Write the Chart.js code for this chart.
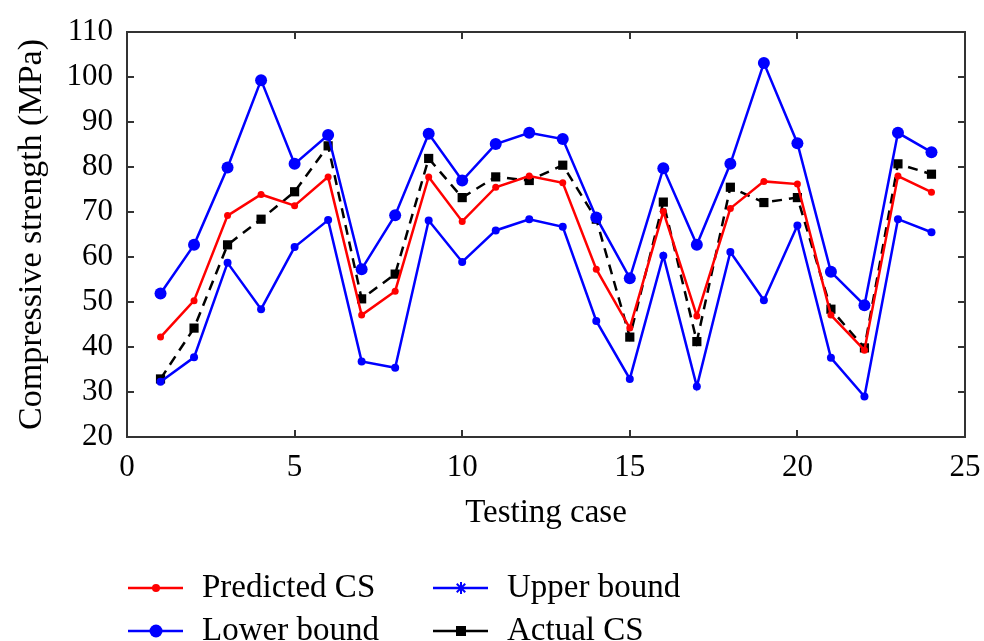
<!DOCTYPE html>
<html>
<head>
<meta charset="utf-8">
<script src="https://cdn.jsdelivr.net/npm/chart.js@4.4.1/dist/chart.umd.min.js"></script>
<style>
  html, body { margin: 0; padding: 0; background: #fff; }
  #wrap { width: 984px; height: 641px; position: relative; }
</style>
</head>
<body>
<div id="wrap"><canvas id="csChart"></canvas></div>
<script>
const testingCase = [1, 2, 3, 4, 5, 6, 7, 8, 9, 10, 11, 12, 13, 14, 15, 16, 17, 18, 19, 20, 21, 22, 23, 24];
const predictedCS = [42.2, 50.3, 69.2, 73.9, 71.4, 77.8, 47.1, 52.4, 77.8, 67.9, 75.5, 78.0,
                     76.5, 57.3, 44.2, 70.1, 46.9, 70.8, 76.8, 76.2, 47.1, 39.3, 78.0, 74.4];
const upperBound  = [32.3, 37.7, 58.7, 48.4, 62.2, 68.2, 36.8, 35.4, 68.1, 58.9, 65.9, 68.4,
                     66.7, 45.8, 32.9, 60.3, 31.2, 61.1, 50.4, 67.0, 37.6, 29.0, 68.4, 65.5];
const lowerBound  = [51.9, 62.7, 79.9, 99.3, 80.7, 87.1, 57.3, 69.3, 87.4, 77.0, 85.1, 87.6,
                     86.2, 68.8, 55.3, 79.7, 62.7, 80.7, 103.1, 85.3, 56.7, 49.3, 87.6, 83.3];
const actualCS    = [32.9, 44.2, 62.7, 68.4, 74.5, 84.7, 50.7, 56.2, 81.9, 73.2, 77.8, 77.0,
                     80.4, 68.4, 42.2, 72.2, 41.2, 75.5, 72.1, 73.2, 48.4, 39.8, 80.7, 78.4];
const xTickValues = [0, 5, 10, 15, 20, 25];
const yTickValues = [20, 30, 40, 50, 60, 70, 80, 90, 100, 110];

const FONT = '"Liberation Serif", "DejaVu Serif", serif';
const AXIS = '#333333';

const pts = vals => vals.map((v, i) => ({ x: testingCase[i], y: v }));

// box frame with inward ticks on all four sides
const frameTicks = {
  id: 'frameTicks',
  afterDraw(chart) {
    const { ctx, chartArea: { left, right, top, bottom }, scales: { x, y } } = chart;
    const len = 7;
    ctx.save();
    ctx.strokeStyle = AXIS;
    ctx.lineWidth = 2;
    ctx.beginPath();
    xTickValues.forEach(v => {
      const px = Math.round(x.getPixelForValue(v));
      if (px <= left + 1 || px >= right - 1) return;
      ctx.moveTo(px, bottom); ctx.lineTo(px, bottom - len);
      ctx.moveTo(px, top); ctx.lineTo(px, top + len);
    });
    yTickValues.forEach(v => {
      const py = Math.round(y.getPixelForValue(v));
      if (py <= top + 1 || py >= bottom - 1) return;
      ctx.moveTo(left, py); ctx.lineTo(left + len, py);
      ctx.moveTo(right, py); ctx.lineTo(right - len, py);
    });
    ctx.stroke();
    ctx.strokeRect(left, top, right - left, bottom - top);
    ctx.restore();
  },
};

function drawMarker(ctx, style, cx, cy, color) {
  ctx.fillStyle = color;
  ctx.strokeStyle = color;
  ctx.beginPath();
  if (style === 'rect') {
    ctx.fillRect(cx - 5, cy - 5, 10, 10);
  } else if (style === 'star') {
    ctx.lineWidth = 2;
    for (let k = 0; k < 4; k++) {
      const a = k * Math.PI / 4;
      ctx.moveTo(cx - 6 * Math.cos(a), cy - 6 * Math.sin(a));
      ctx.lineTo(cx + 6 * Math.cos(a), cy + 6 * Math.sin(a));
    }
    ctx.stroke();
  } else {
    ctx.arc(cx, cy, style === 'big' ? 6.5 : 4, 0, Math.PI * 2);
    ctx.fill();
  }
}

// two-column legend under the axis title
const legendGrid = {
  id: 'legendGrid',
  afterDraw(chart) {
    const { ctx } = chart;
    const slots = [
      { ds: 0, x: 128, y: 588, mark: 'dot' },
      { ds: 1, x: 433, y: 588, mark: 'star' },
      { ds: 2, x: 128, y: 631, mark: 'big' },
      { ds: 3, x: 433, y: 631, mark: 'rect' },
    ];
    ctx.save();
    ctx.font = '33px ' + FONT;
    ctx.textBaseline = 'middle';
    slots.forEach(s => {
      const d = chart.data.datasets[s.ds];
      ctx.strokeStyle = d.borderColor;
      ctx.lineWidth = 2.5;
      ctx.setLineDash([]);
      ctx.beginPath();
      ctx.moveTo(s.x, s.y);
      ctx.lineTo(s.x + 55, s.y);
      ctx.stroke();
      drawMarker(ctx, s.mark, s.x + 28, s.y, d.borderColor);
      ctx.fillStyle = '#000';
      ctx.fillText(d.label, s.x + 74, s.y);
    });
    ctx.restore();
  },
};

new Chart(document.getElementById('csChart'), {
  type: 'line',
  data: {
    datasets: [
      {
        label: 'Predicted CS',
        data: pts(predictedCS),
        borderColor: '#ff0000',
        backgroundColor: '#ff0000',
        borderWidth: 2.5,
        pointRadius: 3.5,
        pointBorderWidth: 0,
      },
      {
        label: 'Upper bound',
        data: pts(upperBound),
        borderColor: '#0000ff',
        backgroundColor: '#0000ff',
        borderWidth: 2.5,
        pointRadius: 4,
        pointBorderWidth: 0,
      },
      {
        label: 'Lower bound',
        data: pts(lowerBound),
        borderColor: '#0000ff',
        backgroundColor: '#0000ff',
        borderWidth: 2.5,
        pointRadius: 6,
        pointBorderWidth: 0,
      },
      {
        label: 'Actual CS',
        data: pts(actualCS),
        borderColor: '#000000',
        backgroundColor: '#000000',
        borderWidth: 2.5,
        borderDash: [10, 7],
        pointStyle: 'rect',
        pointRadius: 6.5,
        pointBorderWidth: 0,
      },
    ],
  },
  options: {
    responsive: true,
    maintainAspectRatio: false,
    animation: false,
    layout: { autoPadding: false, padding: { left: 0, right: 19, top: 32, bottom: 90 } },
    elements: { line: { tension: 0 } },
    plugins: { legend: { display: false }, tooltip: { enabled: false } },
    scales: {
      x: {
        type: 'linear',
        min: 0,
        max: 25,
        afterFit: s => { s.height = 114; s.paddingLeft = 0; s.paddingRight = 0; },
        afterBuildTicks: s => { s.ticks = xTickValues.map(v => ({ value: v })); },
        grid: { display: false, drawTicks: false },
        border: { display: false },
        ticks: { padding: 12, color: '#000', font: { family: FONT, size: 31 } },
        title: {
          display: true,
          text: 'Testing case',
          color: '#000',
          font: { family: FONT, size: 33 },
          padding: { top: 0, bottom: 18 },
        },
      },
      y: {
        min: 20,
        max: 110,
        afterFit: s => { s.width = 127; s.paddingTop = 0; s.paddingBottom = 0; },
        afterBuildTicks: s => { s.ticks = yTickValues.map(v => ({ value: v })); },
        grid: { display: false, drawTicks: false },
        border: { display: false },
        ticks: { padding: 14, color: '#000', font: { family: FONT, size: 31 } },
        title: {
          display: true,
          text: 'Compressive strength (MPa)',
          color: '#000',
          font: { family: FONT, size: 34 },
          padding: { top: 12, bottom: 0 },
        },
      },
    },
  },
  plugins: [frameTicks, legendGrid],
});
</script>
</body>
</html>
